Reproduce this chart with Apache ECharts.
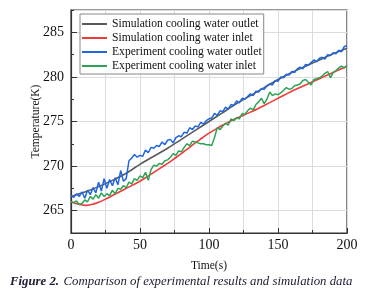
<!DOCTYPE html>
<html>
<head>
<meta charset="utf-8">
<script src="https://cdn.jsdelivr.net/npm/echarts@6/dist/echarts.min.js"></script>
<style>html,body{margin:0;padding:0;background:#fff}#c{width:366px;height:303px}</style>
</head>
<body>
<div id="c"></div>
<script>
// ---- data ----
const seriesNames = ['Simulation cooling water outlet','Simulation cooling water inlet','Experiment cooling water outlet','Experiment cooling water inlet'];
const xTicks = [0, 50, 100, 150, 200];
const yTicks = [265, 270, 275, 280, 285];

const simOutTime = [0,10,20,30,40,50,60,70,80,90,100,110,120,130,140,150,160,170,180,190,200];
const simOutTemp = [266.6,267.1,267.7,268.4,269.2,270.2,271.1,272.0,273.0,274.0,275.0,276.0,277.0,277.9,278.8,279.7,280.5,281.2,281.9,282.6,283.2];

const simInTime = [0,5,10,15,20,25,30,35,40,45,50,55,60,65,70,75,80,85,90,95,100,105,110,115,120,125,130,135,140,145,150,155,160,165,170,175,180,185,190,195,200];
const simInTemp = [266.0,265.75,265.6,265.7,265.95,266.3,266.7,267.1,267.5,267.9,268.3,268.8,269.3,269.8,270.3,270.85,271.4,272.0,272.6,273.15,273.7,274.15,274.6,275.0,275.4,275.7,276.05,276.4,276.8,277.2,277.6,278.0,278.4,278.75,279.1,279.45,279.8,280.15,280.5,280.85,281.2];

const expTime = [0,2,4,6,8,10,12,14,16,18,20,22,24,26,28,30,32,34,36,38,40,42,44,46,48,50,52,54,56,58,60,62,64,66,68,70,72,74,76,78,80,82,84,86,88,90,92,94,96,98,100,102,104,106,108,110,112,114,116,118,120,122,124,126,128,130,132,134,136,138,140,142,144,146,148,150,152,154,156,158,160,162,164,166,168,170,172,174,176,178,180,182,184,186,188,190,192,194,196,198,200];
const expOutTemp = [266.7,266.5,266.9,266.6,267.1,266.4,267.3,266.8,267.6,267.0,268.2,267.2,268.6,267.5,268.5,267.8,268.7,267.9,269.5,268.3,268.6,270.6,270.9,271.3,271.0,271.2,271.1,271.8,271.5,272.1,272.0,272.3,272.2,272.7,272.4,272.9,273.0,272.6,273.2,273.4,273.3,273.8,273.7,274.3,274.1,274.5,274.4,274.9,274.7,275.1,275.3,275.4,275.9,275.7,276.2,276.1,276.6,276.4,276.9,276.8,277.3,277.1,277.6,277.5,277.8,278.1,277.9,278.4,278.3,278.7,278.6,279.0,279.2,279.1,279.6,279.5,280.0,279.9,280.3,280.2,280.6,280.5,280.9,281.1,280.9,281.4,281.3,281.6,281.9,281.7,282.1,282.2,282.0,282.5,282.4,282.7,282.6,283.0,282.8,283.4,283.5];
const expInTemp = [266.0,265.9,266.1,265.7,265.8,266.2,266.0,266.6,266.3,266.8,266.4,267.0,266.6,266.9,266.7,267.3,266.9,267.5,267.4,267.8,267.6,268.2,268.0,268.6,268.4,268.9,268.7,269.3,268.4,269.6,270.1,270.0,270.3,270.2,270.6,270.7,271.0,271.4,271.2,271.7,271.6,272.1,272.5,272.3,272.8,272.7,272.6,272.5,272.5,272.4,272.4,272.3,273.2,274.3,274.1,274.5,274.8,274.6,275.3,275.1,275.4,275.3,275.9,275.8,276.2,276.5,276.3,276.9,277.2,277.6,277.0,277.5,278.3,277.9,278.1,278.0,278.2,278.5,278.8,278.6,278.7,279.0,279.1,279.2,279.6,279.7,279.4,279.1,279.7,279.8,279.9,280.1,280.4,280.6,279.9,280.5,280.7,281.0,281.2,281.0,281.3];

const colors = ['#5a5a5a', '#f03a3a', '#1f66e0', '#2ea356'];
const FONT = 'Liberation Serif, Times New Roman, serif';

function pairs(xs, ys) { return xs.map((x, i) => [x, ys[i]]); }

const chart = echarts.init(document.getElementById('c'), null, {renderer: 'canvas'});
chart.setOption({
  backgroundColor: '#fff',
  animation: false,
  textStyle: {fontFamily: FONT},
  title: {
    left: 5, top: 268,
    text: '{b|Figure 2.} {i|Comparison of experimental results and simulation data}',
    textStyle: {
      fontWeight: 'normal',
      rich: {
        b: {fontFamily: FONT, fontSize: 12.8, fontWeight: 'bold', fontStyle: 'italic', color: '#1a1a30'},
        i: {fontFamily: FONT, fontSize: 12.8, fontWeight: 'normal', fontStyle: 'italic', color: '#1a1a30'}
      }
    }
  },
  grid: {left: 71, right: 19, top: 10, bottom: 70, show: true, borderColor: '#333', borderWidth: 1.2, backgroundColor: 'transparent'},
  legend: {
    orient: 'vertical', left: 80, top: 14,
    data: seriesNames,
    icon: 'rect',
    itemWidth: 25, itemHeight: 2, itemGap: 0,
    padding: [3, 2, 1, 2],
    borderColor: '#888', borderWidth: 1, backgroundColor: '#fff',
    textStyle: {fontFamily: FONT, fontSize: 11.6, color: '#111', lineHeight: 14, height: 14}
  },
  xAxis: {
    type: 'value', min: 0, max: 200, interval: 50,
    name: 'Time(s)', nameLocation: 'middle', nameGap: 27,
    nameTextStyle: {fontFamily: FONT, fontSize: 11.5, color: '#111'},
    axisLine: {show: true, lineStyle: {color: '#333', width: 1.2}},
    axisTick: {show: true, inside: true, length: 5, lineStyle: {color: '#333'}},
    minorTick: {show: true, splitNumber: 2, length: 3, lineStyle: {color: '#333'}},
    axisLabel: {fontFamily: FONT, fontSize: 14, color: '#111', margin: 5},
    splitLine: {show: true, lineStyle: {color: '#dcdcdc', width: 1}},
    minorSplitLine: {show: true, lineStyle: {color: '#dcdcdc', width: 1}}
  },
  yAxis: [{
    type: 'value', min: 262.5, max: 287.5, interval: 2.5,
    name: 'Temperature(K)', nameLocation: 'middle', nameGap: 29,
    nameTextStyle: {fontFamily: FONT, fontSize: 11.5, color: '#111'},
    axisLine: {show: true, lineStyle: {color: '#333', width: 1.2}},
    axisTick: {show: true, inside: true, length: 3, lineStyle: {color: '#333'}},
    axisLabel: {show: false},
    splitLine: {show: false}
  }, {
    type: 'value', min: 262.5, max: 287.5, splitNumber: 5, position: 'left',
    axisLine: {show: false},
    axisTick: {show: true, inside: true, length: 6, lineStyle: {color: '#333'}},
    axisLabel: {fontFamily: FONT, fontSize: 14, color: '#111', margin: 7, showMinLabel: false, showMaxLabel: false,
      formatter: v => (yTicks.indexOf(v) >= 0 ? String(v) : '')},
    splitLine: {show: true, lineStyle: {color: '#dcdcdc', width: 1}}
  }],
  series: [
    {name: seriesNames[0], type: 'line', yAxisIndex: 0, data: pairs(simOutTime, simOutTemp), symbol: 'none', smooth: 0.3, lineStyle: {color: colors[0], width: 1.6}, itemStyle: {color: colors[0]}},
    {name: seriesNames[1], type: 'line', yAxisIndex: 0, data: pairs(simInTime, simInTemp), symbol: 'none', smooth: 0.3, lineStyle: {color: colors[1], width: 1.6}, itemStyle: {color: colors[1]}},
    {name: seriesNames[2], type: 'line', yAxisIndex: 0, data: pairs(expTime, expOutTemp), symbol: 'none', lineStyle: {color: colors[2], width: 1.5}, itemStyle: {color: colors[2]}},
    {name: seriesNames[3], type: 'line', yAxisIndex: 0, data: pairs(expTime, expInTemp), symbol: 'none', lineStyle: {color: colors[3], width: 1.5}, itemStyle: {color: colors[3]}}
  ]
});
</script>
</body>
</html>
